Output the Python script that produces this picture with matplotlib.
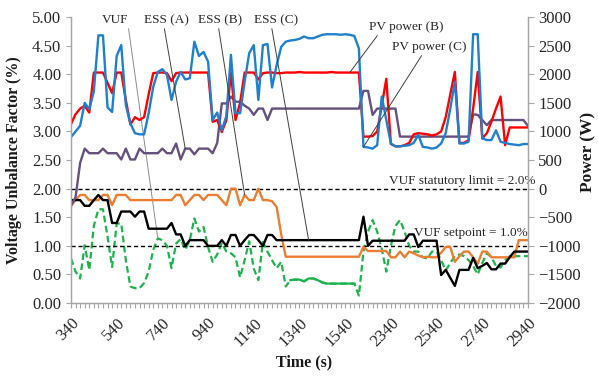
import matplotlib
matplotlib.use('Agg')
import matplotlib.pyplot as plt
import numpy as np

plt.rcParams['font.family'] = ['Liberation Serif', 'DejaVu Serif']

# Time labels on the category axis (one label every 10 samples)
time_labels = ['340', '540', '740', '940', '1140', '1340', '1540',
               '2340', '2540', '2740', '2940']

# Voltage unbalance factor (%), left axis
vuf = [0.78, 0.55, 0.43, 1.01, 0.58, 1.35, 1.64, 1.64, 1.16, 0.63,
       1.39, 1.39, 0.75, 0.29, 0.26, 0.26, 0.35, 0.55, 0.93, 1.13,
       1.10, 1.00, 0.61, 1.04, 1.12, 0.93, 1.10, 1.48, 1.25, 1.33,
       0.98, 0.72, 0.85, 1.05, 0.90, 0.87, 0.80, 0.45, 0.75, 1.08,
       0.60, 0.40, 1.07, 0.90, 0.75, 0.61, 0.72, 0.29, 0.40, 0.41,
       0.41, 0.38, 0.43, 0.43, 0.40, 0.36, 0.34, 0.34, 0.34, 0.34,
       0.34, 0.34, 0.34, 0.13, 0.90, 1.25, 1.45, 1.25, 0.95, 0.55,
       1.00, 1.35, 1.45, 1.25, 1.00, 0.90, 0.90, 0.80, 0.78, 0.90,
       0.90, 0.75, 0.57, 0.70, 0.82, 0.85, 0.82, 0.75, 0.65, 0.50,
       0.70, 0.87, 0.80, 0.65, 0.62, 0.75, 0.82, 0.82, 0.82, 0.82,
       0.82]

# Powers (W), right axis
pv_b = [1130, 1300, 1400, 1450, 1330, 2030, 2030, 2030, 1850, 1670,
        2030, 2030, 1550, 1120, 1250, 1200, 1250, 1650, 2020, 2030,
        2030, 2020, 1880, 2020, 2030, 2030, 2030, 2030, 2030, 2030,
        2030, 1170, 1200, 990, 1200, 2030, 1200, 1500, 2030, 2030,
        2030, 1910, 2020, 2030, 2030, 2020, 2020, 2030, 2030, 2030,
        2040, 2030, 2030, 2030, 2030, 2030, 2030, 2040, 2030, 2030,
        2030, 2030, 2030, 2030, 910, 910, 920, 1000, 1450, 1920,
        780, 740, 740, 760, 800, 950, 970, 960, 950, 930,
        950, 1000, 1250, 1650, 2040, 800, 800, 850, 1400, 2040,
        880, 970, 1170, 1400, 1610, 760, 1070, 1070, 1070, 1070,
        1070]

pv_c = [900, 1000, 1100, 1500, 1390, 1700, 2680, 2680, 1420, 1340,
        2320, 2510, 1460, 1140, 970, 950, 950, 1320, 1780, 2040,
        2090, 1990, 1550, 1870, 2040, 1910, 1930, 2570, 2320, 2390,
        2220, 1200, 1330, 1020, 1270, 2340, 1320, 1320, 1870, 2370,
        2510, 1550, 2510, 2530, 1770, 2160, 2480, 2570, 2590, 2600,
        2620, 2660, 2630, 2630, 2660, 2690, 2700, 2700, 2700, 2690,
        2700, 2690, 2670, 2450, 730, 720, 700, 760, 1610, 1200,
        790, 740, 740, 750, 760, 800, 940, 730, 720, 700,
        720, 790, 970, 1400, 1870, 790, 790, 820, 2700, 2700,
        880, 850, 850, 1020, 820, 800, 780, 770, 760, 780,
        780]

ess_a = [-300, -150, 450, 700, 620, 620, 620, 700, 620, 620,
         620, 510, 700, 510, 510, 700, 620, 620, 620, 620,
         700, 620, 620, 790, 510, 700, 700, 600, 700, 700,
         700, 620, 800, 1490, 1490, 1610, 1520, 1520, 1450, 1400,
         1290, 1400, 1400, 1200, 1400, 1400, 1400, 1400, 1400, 1400,
         1400, 1400, 1400, 1400, 1400, 1400, 1400, 1400, 1400, 1400,
         1400, 1400, 1400, 1400, 1710, 1710, 1290, 1400, 1400, 1400,
         1400, 1400, 910, 910, 910, 910, 910, 910, 910, 910,
         910, 910, 910, 910, 910, 910, 910, 910, 1300, 1290,
         1200, 1110, 1200, 1200, 1200, 1200, 1200, 1200, 1200, 1200,
         1100]

ess_b = [-300, -200, -110, -110, -200, -200, -200, -110, -110, -290,
         -110, -110, -110, -200, -200, -200, -200, -200, -200, -200,
         -200, -200, -200, -110, -110, -290, -200, -110, -110, -200,
         -110, -110, -110, -200, -290, 0, 0, -290, -110, -200,
         -200, 0, -200, -200, -220, -320, -800, -1190, -1190, -1190,
         -1190, -1190, -1190, -1190, -1190, -1190, -1190, -1190, -1190, -1190,
         -1190, -1190, -1190, -1190, -1020, -1090, -1090, -1090, -1090, -1090,
         -1200, -1200, -1100, -1200, -1100, -1130, -1170, -1200, -1190, -1200,
         -1200, -1120, -1020, -1020, -1280, -1180, -1100, -1100, -1200, -1310,
         -1100, -1100, -1200, -1200, -1200, -1200, -1200, -1200, -900, -900,
         -900]

ess_c = [-200, -200, -200, -300, -300, -200, -110, -200, -200, -600,
         -600, -400, -400, -400, -490, -400, -400, -700, -700, -700,
         -700, -700, -600, -800, -800, -1000, -900, -900, -900, -900,
         -1000, -1000, -1000, -900, -1000, -810, -810, -1000, -900, -810,
         -810, -900, -1000, -810, -810, -900, -900, -900, -900, -900,
         -900, -900, -900, -900, -900, -900, -900, -900, -900, -900,
         -900, -900, -900, -900, -490, -1000, -910, -910, -910, -910,
         -910, -910, -910, -910, -800, -800, -1020, -910, -910, -910,
         -910, -1510, -1420, -1560, -1700, -1420, -1420, -1420, -1210, -1390,
         -1350, -1300, -1410, -1410, -1310, -1310, -1200, -1100, -1100, -1100,
         -1100]

x = np.arange(len(vuf))
solid_from, solid_to = 48, 62   # stretch where the VUF trace is drawn solid

fig = plt.figure(figsize=(5.98, 3.76), dpi=100)
ax = fig.add_axes([0.1187, 0.194, 0.7642, 0.7606])
ax2 = ax.twinx()

green = '#1db34f'
ax.plot(x, vuf, color=green, lw=1.6, ls=(0, (3, 1.6)))
ax.plot(x[solid_from:solid_to + 1], vuf[solid_from:solid_to + 1], color=green, lw=1.6)
ax.axhline(2.0, color='black', lw=1.0, ls=(0, (3, 2)))
ax.axhline(1.0, color='black', lw=1.0, ls=(0, (3, 2)))

ax2.plot(x, ess_b, color='#ed7d31', lw=1.7)
ax2.plot(x, ess_c, color='black', lw=1.7)
ax2.plot(x, ess_a, color='#65507f', lw=1.7)
ax2.plot(x, pv_b, color='#ff0000', lw=1.7)
ax2.plot(x, pv_c, color='#1f80d0', lw=1.7)

ax.set_xlim(0, 100)
ax.set_ylim(0, 5)
ax2.set_ylim(-2000, 3000)
ax.set_yticks(np.arange(0, 5.01, 0.5))
ax.set_yticklabels([f'{v:.2f}' for v in np.arange(0, 5.01, 0.5)])
ax2.set_yticks(np.arange(-2000, 3001, 500))
ax.set_xticks(np.arange(0, 101, 10))
ax.set_xticklabels(time_labels, rotation=45, ha='right', rotation_mode='anchor')
ax.set_xticks(x, minor=True)

for a in (ax, ax2):
    for s in a.spines.values():
        s.set_color('#a6a6a6')
        s.set_linewidth(0.9)
    a.spines['top'].set_visible(False)
ax.tick_params(axis='both', which='both', colors='#a6a6a6', labelcolor='#262626',
               labelsize=12, length=3.5, width=0.8)
ax.tick_params(axis='x', which='major', pad=5)
ax2.tick_params(axis='y', colors='#a6a6a6', labelcolor='#262626',
                labelsize=12, length=4, width=0.8)

# axis titles
fig.text(14 / 598, 1 - 160 / 376, 'Voltage Unbalance Factor (%)', rotation=90,
         fontsize=11.5, fontweight='bold', ha='center', va='center', color='#1a1a1a')
fig.text(588 / 598, 1 - 152 / 376, 'Power (W)', rotation=90,
         fontsize=12.5, fontweight='bold', ha='center', va='center', color='#1a1a1a')
fig.text(304 / 598, 1 - 362 / 376, 'Time (s)',
         fontsize=11.5, fontweight='bold', ha='center', va='center', color='#1a1a1a')

# limit lines text
ax.text(101.6, 2.13, 'VUF statutory limit = 2.0%', fontsize=9.5, ha='right',
        va='center', color='#262626', clip_on=False)
ax.text(99.9, 1.22, 'VUF setpoint = 1.0%', fontsize=9.5, ha='right',
        va='center', color='#262626')

# series call-outs
def callout(axis, label, i, series, tx, ty, relx, col='#404040'):
    axis.annotate(label, xy=(i, series[i]), xytext=(tx, ty),
                  textcoords=ax.transData, fontsize=9.5, ha='center', va='center',
                  color='#262626',
                  arrowprops=dict(arrowstyle='-', color=col, lw=0.7,
                                  shrinkA=0, shrinkB=0, relpos=(relx, 0.05)))

callout(ax, 'VUF', 19, vuf, 9.6, 4.95, 1.0, col='#8c8c8c')
callout(ax2, 'ESS (A)', 25, ess_a, 20.8, 4.95, 0.45)
callout(ax2, 'ESS (B)', 38, ess_b, 32.7, 4.95, 0.45)
callout(ax2, 'ESS (C)', 52, ess_c, 44.8, 4.95, 0.40)
callout(ax2, 'PV power (B)', 61, pv_b, 73.3, 4.83, 0.15)
callout(ax2, 'PV power (C)', 64, pv_c, 78.5, 4.48, 0.42)

plt.savefig('out.png', dpi=100)
